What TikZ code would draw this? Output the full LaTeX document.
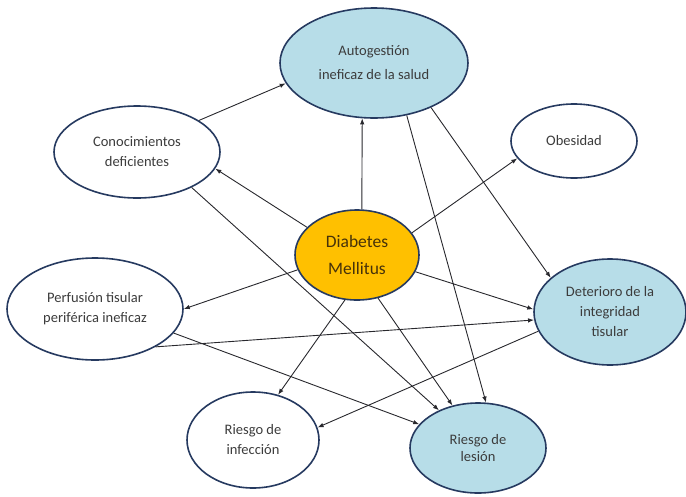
\documentclass[tikz,border=0pt]{standalone}
\usepackage{fontspec}
\setmainfont{Carlito}
\usepackage{tikz}
\usetikzlibrary{
  shapes.geometric,
  arrows.meta
}
\definecolor{nodeborder}{RGB}{38, 58, 96}
\definecolor{bluefill}{RGB}{183, 221, 232}
\definecolor{dmfill}{RGB}{255, 192, 0}
\definecolor{arrowcolor}{RGB}{40, 40, 45}
\definecolor{labeltext}{RGB}{60, 60, 60}
\definecolor{dmtext}{RGB}{70, 50, 10}

\begin{document}
\begin{tikzpicture}[
      x=1pt, y=-1pt,
      dxnode/.style={
        ellipse, draw=nodeborder, line width=1.6pt,
        inner sep=0pt, align=center,
        font=\fontsize{14.5}{20}\selectfont, text=labeltext
      },
      plainnode/.style={dxnode, fill=white},
      bluenode/.style={dxnode, fill=bluefill},
      centralnode/.style={dxnode, fill=dmfill, text=dmtext,
        font=\fontsize{17.5}{27}\selectfont},
      arrow/.style={-{Latex[length=6pt, width=4.5pt]}, line width=0.9pt, draw=arrowcolor},
    ]
      \useasboundingbox (0,0) rectangle (686,496);

      % Diagnoses
      \node[bluenode, minimum width=188pt, minimum height=110pt,
            font=\fontsize{14.5}{24}\selectfont] (auto) at (374,63) {Autogestión\\ineficaz de la salud};
      \node[plainnode, minimum width=166pt, minimum height=92pt] (con) at (137,152) {Conocimientos\\deficientes};
      \node[plainnode, minimum width=126pt, minimum height=74pt] (obe) at (574,141) {Obesidad};
      \node[centralnode, minimum width=124pt, minimum height=90pt] (dm) at (357,255) {Diabetes\\Mellitus};
      \node[plainnode, minimum width=176pt, minimum height=102pt] (per) at (95,309) {Perfusión tisular\\periférica ineficaz};
      \node[bluenode, minimum width=152pt, minimum height=106pt] (det) at (610,312) {Deterioro de la\\integridad\\tisular};
      \node[plainnode, minimum width=132pt, minimum height=96pt] (inf) at (253,440) {Riesgo de\\infección};
      \node[bluenode, minimum width=136pt, minimum height=90pt,
            font=\fontsize{14.5}{17}\selectfont] (les) at (478,448) {Riesgo de\\lesión};

      % Arrows from Diabetes Mellitus
      \draw[arrow] (dm.84) -- (auto.258);
      \draw[arrow] (dm.151) -- (con.348);
      \draw[arrow] (dm.22) -- (obe.197);
      \draw[arrow] (dm.194) -- (per.0);
      \draw[arrow] (dm.344) -- (det.178);
      \draw[arrow] (dm.255) -- (inf.61);
      \draw[arrow] (dm.296) -- (les.121);

      % Other relations
      \draw[arrow] (con.27) -- (auto.193);
      \draw[arrow] (con.327) -- (les.136);
      \draw[arrow] (auto.322) -- (det.150);
      \draw[arrow] (auto.302) -- (les.80);
      \draw[arrow] (per.328) -- (det.186);
      \draw[arrow] (per.343) -- (les.158);
      \draw[arrow] (det.195) -- (inf.11);
    \end{tikzpicture}
\end{document}
